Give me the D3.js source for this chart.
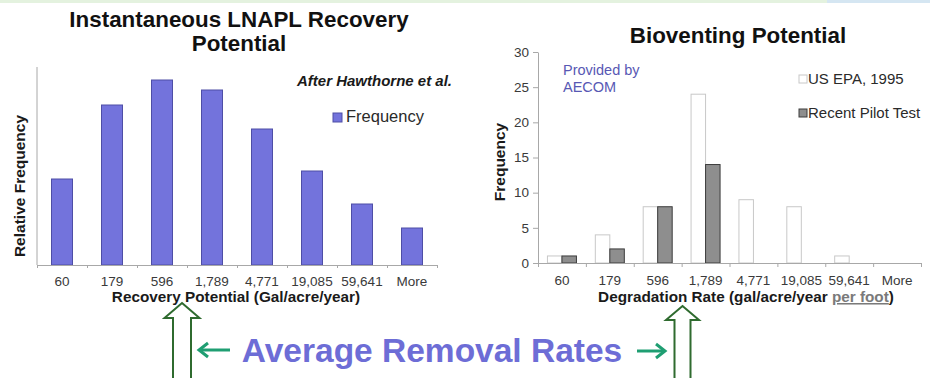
<!DOCTYPE html>
<html><head><meta charset="utf-8">
<script src="https://cdn.jsdelivr.net/npm/d3@7"></script>
<style>body{margin:0;background:#fff}svg{display:block;font-family:"Liberation Sans",Arial,sans-serif}</style>
</head><body>
<svg id="c" width="930" height="378"></svg>
<script>
const categories = ["60","179","596","1,789","4,771","19,085","59,641","More"];
const lnaplFrequency = [8.6, 16.0, 18.5, 17.5, 13.6, 9.4, 6.1, 3.7];
const epaFrequency = [1, 4, 8, 24, 9, 8, 1, 0];
const pilotFrequency = [1, 2, 8, 14, 0, 0, 0, 0];
const bioTicks = [0, 5, 10, 15, 20, 25, 30];

const svg = d3.select("#c");
svg.append("rect").attr("x",0).attr("y",0).attr("width",930).attr("height",3).attr("fill","#e4f2df");
svg.append("rect").attr("x",827).attr("y",0).attr("width",103).attr("height",3).attr("fill","#d5e6f2");

// ---------- Left chart ----------
const L = {x0:37, x1:437, y0:265, y1:67};
const xL = d3.scaleBand().domain(categories).range([L.x0, L.x1]).paddingInner(0.58).paddingOuter(0.29);
const yL = d3.scaleLinear().domain([0, 19.8]).range([L.y0, L.y1]);
const gL = svg.append("g");
gL.selectAll("rect.bar").data(lnaplFrequency).join("rect").attr("class","bar")
  .attr("x",(d,i)=>xL(categories[i])).attr("y",d=>yL(d))
  .attr("width",xL.bandwidth()).attr("height",d=>yL(0)-yL(d))
  .attr("fill","#7373dc").attr("stroke","#4e4ea6").attr("stroke-width",1);
gL.append("line").attr("x1",L.x0).attr("x2",L.x0).attr("y1",L.y1).attr("y2",L.y0).attr("stroke","#a8a8a8");
const axL = d3.axisBottom(d3.scalePoint().domain(d3.range(categories.length+1)).range([L.x0,L.x1])).tickSize(3).tickFormat("");
const gax = gL.append("g").attr("transform",`translate(0,${L.y0})`).call(axL);
gax.select(".domain").attr("stroke","#a8a8a8");
gax.selectAll(".tick line").attr("stroke","#a8a8a8");
gL.selectAll("text.xl").data(categories).join("text").attr("class","xl")
  .attr("x",d=>xL(d)+xL.bandwidth()/2).attr("y",286).attr("text-anchor","middle")
  .attr("font-size",13.5).attr("fill","#3a3a3a").text(d=>d);
gL.append("text").attr("x",236).attr("y",302).attr("text-anchor","middle").attr("font-size",15.3).attr("font-weight","bold").attr("fill","#1a1a1a").text("Recovery Potential (Gal/acre/year)");
gL.append("text").attr("transform","translate(25,186) rotate(-90)").attr("text-anchor","middle").attr("font-size",15.5).attr("font-weight","bold").attr("fill","#1a1a1a").text("Relative Frequency");
gL.append("text").attr("x",239).attr("y",27).attr("text-anchor","middle").attr("font-size",22.4).attr("font-weight","bold").attr("fill","#111").text("Instantaneous LNAPL Recovery");
gL.append("text").attr("x",239).attr("y",51).attr("text-anchor","middle").attr("font-size",22.4).attr("font-weight","bold").attr("fill","#111").text("Potential");
gL.append("text").attr("x",452).attr("y",86).attr("text-anchor","end").attr("font-size",15).attr("font-weight","bold").attr("font-style","italic").attr("fill","#1a1a1a").text("After Hawthorne et al.");
gL.append("rect").attr("x",333).attr("y",113).attr("width",9).attr("height",9).attr("fill","#7373dc").attr("stroke","#4e4ea6");
gL.append("text").attr("x",346).attr("y",122).attr("font-size",16.5).attr("fill","#2a2a2a").text("Frequency");

// ---------- Right chart ----------
const R = {x0:538, x1:921, y0:263, y1:52};
const xR = d3.scaleBand().domain(categories).range([R.x0, R.x1]);
const xSub = d3.scaleBand().domain(["epa","pilot"]).range([0, 29]);
const yR = d3.scaleLinear().domain([0, 30]).range([R.y0, R.y1]);
const gR = svg.append("g");
const groupOff = (xR.bandwidth()-29)/2;
gR.selectAll("rect.epa").data(epaFrequency).join("rect").attr("class","epa")
  .attr("x",(d,i)=>xR(categories[i])+groupOff+xSub("epa")).attr("y",d=>yR(d))
  .attr("width",xSub.bandwidth()).attr("height",d=>yR(0)-yR(d))
  .attr("fill","#fff").attr("stroke",d=>d>0?"#c8c8c8":"none");
gR.selectAll("rect.pilot").data(pilotFrequency).join("rect").attr("class","pilot")
  .attr("x",(d,i)=>xR(categories[i])+groupOff+xSub("pilot")).attr("y",d=>yR(d))
  .attr("width",xSub.bandwidth()).attr("height",d=>yR(0)-yR(d))
  .attr("fill","#8e8e8e").attr("stroke",d=>d>0?"#3c3c3c":"none");
const ayR = gR.append("g").attr("transform",`translate(${R.x0},0)`).call(d3.axisLeft(yR).tickValues(bioTicks).tickSize(5).tickSizeOuter(0).tickPadding(4));
ayR.select(".domain").attr("stroke","#a8a8a8");
ayR.selectAll(".tick line").attr("stroke","#a8a8a8");
ayR.selectAll(".tick text").attr("font-size",13.5).attr("fill","#3a3a3a").attr("font-family","Liberation Sans, Arial, sans-serif");
const axR = d3.axisBottom(d3.scalePoint().domain(d3.range(categories.length+1)).range([R.x0,R.x1])).tickSize(4).tickSizeOuter(0).tickFormat("");
const gax2 = gR.append("g").attr("transform",`translate(0,${R.y0})`).call(axR);
gax2.select(".domain").attr("stroke","#a8a8a8");
gax2.selectAll(".tick line").attr("stroke","#a8a8a8");
gR.selectAll("text.xl").data(categories).join("text").attr("class","xl")
  .attr("x",d=>xR(d)+xR.bandwidth()/2).attr("y",285).attr("text-anchor","middle")
  .attr("font-size",13.5).attr("fill","#3a3a3a").text(d=>d);
const xt = gR.append("text").attr("x",746).attr("y",302).attr("text-anchor","middle").attr("font-size",15.3).attr("font-weight","bold").attr("fill","#1a1a1a");
xt.append("tspan").text("Degradation Rate (gal/acre/year ");
xt.append("tspan").attr("fill","#7a7a7a").attr("text-decoration","underline").text("per foot");
xt.append("tspan").text(")");
gR.append("text").attr("transform","translate(505,162) rotate(-90)").attr("text-anchor","middle").attr("font-size",15.5).attr("font-weight","bold").attr("fill","#1a1a1a").text("Frequency");
gR.append("text").attr("x",738).attr("y",43).attr("text-anchor","middle").attr("font-size",22.4).attr("font-weight","bold").attr("fill","#111").text("Bioventing Potential");
gR.append("text").attr("x",563).attr("y",75).attr("font-size",14.5).attr("fill","#5858b4").text("Provided by");
gR.append("text").attr("x",563).attr("y",92).attr("font-size",14.5).attr("fill","#5858b4").text("AECOM");
gR.append("rect").attr("x",799).attr("y",75).attr("width",8).attr("height",8).attr("fill","#fff").attr("stroke","#c8c8c8");
gR.append("text").attr("x",808).attr("y",84).attr("font-size",15).attr("fill","#2a2a2a").text("US EPA, 1995");
gR.append("rect").attr("x",799).attr("y",109).attr("width",8).attr("height",8).attr("fill","#8e8e8e").attr("stroke","#3c3c3c");
gR.append("text").attr("x",808).attr("y",118).attr("font-size",15).attr("fill","#2a2a2a").text("Recent Pilot Test");

// ---------- Bottom annotation ----------
function blockArrow(cx, top, headW, shaftW, headH){
  const p = d3.path();
  p.moveTo(cx, top);
  p.lineTo(cx+headW/2, top+headH);
  p.lineTo(cx+shaftW/2, top+headH);
  p.lineTo(cx+shaftW/2, 385);
  p.lineTo(cx-shaftW/2, 385);
  p.lineTo(cx-shaftW/2, top+headH);
  p.lineTo(cx-headW/2, top+headH);
  p.closePath();
  svg.append("path").attr("d",p.toString()).attr("fill","#fff").attr("stroke","#2f6b2f").attr("stroke-width",2);
}
blockArrow(182, 303, 35, 18, 15);
blockArrow(682.5, 306, 33, 16, 14);
function smallArrow(x1, x2, y){
  const dir = Math.sign(x2-x1);
  svg.append("line").attr("x1",x1).attr("x2",x2).attr("y1",y).attr("y2",y).attr("stroke","#1f9e72").attr("stroke-width",3);
  svg.append("path").attr("d",`M${x2-dir*9},${y-7} L${x2},${y} L${x2-dir*9},${y+7}`).attr("fill","none").attr("stroke","#1f9e72").attr("stroke-width",3).attr("stroke-linejoin","miter");
}
smallArrow(230, 199, 350);
smallArrow(637, 665, 351);
svg.append("text").attr("x",432).attr("y",362).attr("text-anchor","middle").attr("font-size",33.5).attr("font-weight","bold").attr("fill","#6d6dd6").text("Average Removal Rates");
</script>
</body></html>
